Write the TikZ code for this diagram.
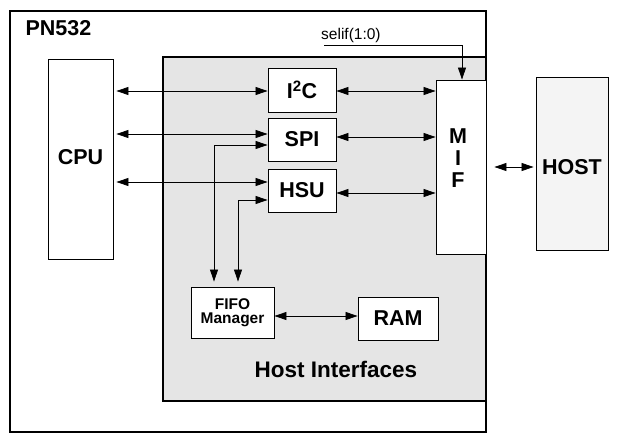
\documentclass[tikz,border=0pt]{standalone}
\usepackage{fontspec}
\setmainfont{Liberation Sans}
\usetikzlibrary{arrows.meta,calc}
\definecolor{hifill}{HTML}{E5E5E5}
\definecolor{hostfill}{HTML}{F4F4F4}
\tikzset{
  big/.style={font=\fontsize{21.5}{24}\selectfont\bfseries},
  blk/.style={draw, line width=0.9pt, fill=white, inner sep=0pt, big},
  thick box/.style={draw, line width=2pt, inner sep=0pt},
  arr/.style={line width=0.8pt, {Triangle[length=12pt,width=8pt]}-{Triangle[length=12pt,width=8pt]}},
  arrone/.style={line width=0.8pt, -{Triangle[length=12pt,width=8pt]}},
}
\begin{document}
\begin{tikzpicture}[x=1pt,y=-1pt]
\useasboundingbox (0,0) rectangle (636,441);
% outer PN532 box
\node[thick box, minimum width=476pt, minimum height=421pt] (outer) at (248,221.5) {};
\node[big, anchor=west] (pn) at (22,28.5) {PN532};
% host interfaces area
\node[thick box, fill=hifill, minimum width=323pt, minimum height=344pt] (hi) at (324.5,229) {};
\node[font=\fontsize{22.5}{24}\selectfont\bfseries] (hitxt) at (336,369) {Host Interfaces};
% blocks
\node[blk, minimum width=65pt, minimum height=200pt] (cpu) at (80.5,159) {};
\node[big] (cputxt) at (80.5,157) {CPU};
\node[blk, minimum width=68pt, minimum height=44pt] (i2c) at (302,90) {I\textsuperscript{2}C};
\node[blk, minimum width=68pt, minimum height=43pt] (spi) at (302,139.5) {SPI};
\node[blk, minimum width=68pt, minimum height=43pt] (hsu) at (302,190.5) {HSU};
\node[blk, minimum width=50pt, minimum height=174pt] (mif) at (461,167) {};
\node[big, align=center, font=\fontsize{21.5}{22}\selectfont\bfseries] (miftxt) at (458,158) {M\\I\\F};
\node[blk, fill=hostfill, minimum width=72pt, minimum height=173pt] (host) at (572,163.5) {};
\node[big] (hosttxt) at (572,167) {HOST};
\node[blk, minimum width=83pt, minimum height=51pt, align=center, font=\fontsize{15.5}{14}\selectfont\bfseries] (fifo) at (232.5,312.5) {FIFO\\Manager};
\node[blk, minimum width=80pt, minimum height=43pt] (ram) at (398,318.5) {RAM};
% selif label
\node[anchor=base west, font=\fontsize{15.5}{18}\selectfont, inner sep=0pt] (seliftxt) at (321,40) {selif(1:0)};
\coordinate (selS) at (324,45);
\draw[arrone] (selS) -| ([xshift=1pt]mif.north);
% CPU connections
\coordinate (i2cL) at ([yshift=-1pt]i2c.west);
\coordinate (spiL) at ([yshift=5.5pt]spi.west);
\coordinate (hsuL) at ([yshift=8.5pt]hsu.west);
\draw[arr, shorten <=3pt] (cpu.east |- i2cL) -- (i2cL);
\draw[arr, shorten <=3pt] (cpu.east |- spiL) -- (spiL);
\draw[arr, shorten <=3pt] (cpu.east |- hsuL) -- (hsuL);
% MIF connections
\coordinate (i2cR) at ([yshift=-1pt]i2c.east);
\coordinate (spiR) at ([yshift=2.5pt]spi.east);
\coordinate (hsuR) at ([yshift=-2.5pt]hsu.east);
\draw[arr] (i2cR) -- (mif.west |- i2cR);
\draw[arr] (spiR) -- (mif.west |- spiR);
\draw[arr] (hsuR) -- (mif.west |- hsuR);
\draw[arr, shorten <=8pt, shorten >=2pt] (mif.east) -- (host.west |- mif.east);
% FIFO connections
\coordinate (spiF) at ([yshift=-5.5pt]spi.west);
\coordinate (hsuF) at ([yshift=-9.5pt]hsu.west);
\draw[arr, shorten <=5pt] ([xshift=-18.5pt]fifo.north) |- (spiF);
\draw[arr, shorten <=5pt] ([xshift=5.5pt]fifo.north) |- (hsuF);
\coordinate (fifoR) at ([yshift=-3.5pt]fifo.east);
\draw[arr] (fifoR) -- (ram.west |- fifoR);
\end{tikzpicture}
\end{document}
